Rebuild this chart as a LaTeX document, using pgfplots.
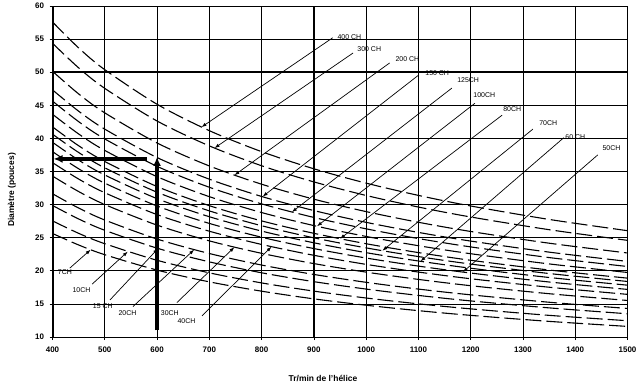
\documentclass[border=0pt]{standalone}
\usepackage{pgfplots}
\pgfplotsset{compat=1.18}
\usepackage{pgfplotstable}
\usepackage{fontspec}
\setmainfont{Liberation Sans}
\usetikzlibrary{arrows.meta}

\pgfplotstableread{
N p7 p10 p15 p20 p30 p40 p50 p60 p70 p80 p100 p125 p150 p200 p300 p400
400 25.64 27.54 29.87 31.64 34.31 36.34 38.00 39.41 40.64 41.74 43.65 45.64 47.33 50.14 54.37 57.59
450 23.90 25.66 27.83 29.48 31.97 33.86 35.41 36.72 37.87 38.89 40.67 42.53 44.11 46.72 50.66 53.67
500 22.43 24.09 26.12 27.67 30.01 31.79 33.24 34.47 35.55 36.51 38.18 39.92 41.40 43.86 47.56 50.38
600 20.11 21.59 23.42 24.80 26.90 28.49 29.79 30.90 31.87 32.73 34.22 35.78 37.11 39.31 42.63 45.16
700 18.33 19.69 21.35 22.61 24.52 25.98 27.16 28.17 29.05 29.84 31.20 32.62 33.84 35.84 38.87 41.17
800 16.92 18.17 19.70 20.87 22.64 23.98 25.07 26.00 26.81 27.54 28.80 30.11 31.23 33.08 35.87 38.00
900 15.76 16.93 18.36 19.45 21.09 22.34 23.36 24.23 24.98 25.66 26.83 28.06 29.10 30.82 33.43 35.41
1000 14.80 15.89 17.24 18.26 19.80 20.97 21.93 22.74 23.46 24.09 25.19 26.34 27.32 28.94 31.38 33.24
1100 13.98 15.01 16.28 17.24 18.70 19.81 20.71 21.48 22.15 22.75 23.79 24.87 25.80 27.33 29.63 31.39
1200 13.27 14.25 15.45 16.37 17.75 18.80 19.66 20.39 21.02 21.59 22.58 23.61 24.49 25.94 28.13 29.79
1350 12.36 13.27 14.40 15.25 16.54 17.52 18.31 18.99 19.59 20.12 21.04 22.00 22.82 24.17 26.21 27.76
1500 11.60 12.46 13.51 14.31 15.52 16.44 17.19 17.83 18.39 18.89 19.75 20.65 21.42 22.69 24.60 26.06
}\curves

\begin{document}
\begin{tikzpicture}
\useasboundingbox (-52.5bp,-51bp) rectangle (587.5bp,337bp);
\begin{axis}[
  at={(0,0)}, anchor=south west,
  scale only axis,
  width=575bp, height=331bp,
  xmin=400, xmax=1500, ymin=10, ymax=60,
  xtick={400,500,...,1500},
  ytick={10,15,...,60},
  grid=major,
  major grid style={black, line width=0.7bp},
  axis line style={black, line width=0.9bp},
  tick style={black, line width=0.6bp},
  major tick length=3bp,
  tick align=outside,
  xtick pos=bottom, ytick pos=left,
  /pgf/number format/assume math mode=true,
  /pgf/number format/1000 sep={},
  scaled ticks=false,
  tick label style={font=\fontsize{8}{9}\selectfont\bfseries},
  xticklabel style={yshift=-3bp},
  yticklabel style={xshift=-2bp},
  cv/.style={black, solid, line width=1.1bp, dash pattern=on 16bp off 5bp, smooth, tension=0.5, mark=none},
]
\addplot[cv] table[x=N, y=p7] {\curves};
\addplot[cv] table[x=N, y=p10] {\curves};
\addplot[cv] table[x=N, y=p15] {\curves};
\addplot[cv] table[x=N, y=p20] {\curves};
\addplot[cv] table[x=N, y=p30] {\curves};
\addplot[cv] table[x=N, y=p40] {\curves};
\addplot[cv] table[x=N, y=p50] {\curves};
\addplot[cv] table[x=N, y=p60] {\curves};
\addplot[cv] table[x=N, y=p70] {\curves};
\addplot[cv] table[x=N, y=p80] {\curves};
\addplot[cv] table[x=N, y=p100] {\curves};
\addplot[cv] table[x=N, y=p125] {\curves};
\addplot[cv] table[x=N, y=p150] {\curves};
\addplot[cv] table[x=N, y=p200] {\curves};
\addplot[cv] table[x=N, y=p300] {\curves};
\addplot[cv] table[x=N, y=p400] {\curves};

% emphasised grid lines
\draw[black, line width=1.6bp] (axis cs:400,50) -- (axis cs:1500,50);
\draw[black, line width=1.4bp] (axis cs:400,35) -- (axis cs:1500,35);
\draw[black, line width=1.4bp] (axis cs:900,10) -- (axis cs:900,60);
\draw[black, line width=2.2bp] (axis cs:400,10) -- (axis cs:400,60);

% worked example arrows
\draw[black, line width=3.2bp, -{Latex[length=9bp,width=8bp]}] (axis cs:600,11) -- (axis cs:600,37.2);
\draw[black, line width=3.2bp, -{Latex[length=9bp,width=8bp]}] (axis cs:581,36.9) -- (axis cs:402,36.9);

% label arrows (upper right)
\tikzset{lab/.style={font=\fontsize{7}{8}\selectfont, inner sep=0.5bp, anchor=west},
         arr/.style={black, line width=0.7bp, -{Latex[length=5bp,width=3.5bp]}}}
\draw[arr] (axis cs:936,55.2) -- (axis cs:685,41.70);
\draw[arr] (axis cs:975,52.9) -- (axis cs:710,38.54);
\draw[arr] (axis cs:1045,51.4) -- (axis cs:748,34.44);
\draw[arr] (axis cs:1101,49.6) -- (axis cs:802,31.21);
\draw[arr] (axis cs:1164,47.6) -- (axis cs:858,28.87);
\draw[arr] (axis cs:1208,45.3) -- (axis cs:906,26.73);
\draw[arr] (axis cs:1260,43.5) -- (axis cs:950,24.84);
\draw[arr] (axis cs:1319,41.4) -- (axis cs:1031,23.03);
\draw[arr] (axis cs:1378,40.1) -- (axis cs:1104,21.43);
\draw[arr] (axis cs:1443,37.5) -- (axis cs:1185,19.81);
\node[lab] at (axis cs:944,55.3) {400 CH};
\node[lab] at (axis cs:982,53.5) {300 CH};
\node[lab] at (axis cs:1055,52.0) {200 CH};
\node[lab] at (axis cs:1112,49.9) {150 CH};
\node[lab] at (axis cs:1173,48.8) {125CH};
\node[lab] at (axis cs:1204,46.6) {100CH};
\node[lab] at (axis cs:1261,44.4) {80CH};
\node[lab] at (axis cs:1330,42.3) {70CH};
\node[lab] at (axis cs:1380,40.2) {60 CH};
\node[lab] at (axis cs:1451,38.5) {50CH};

% label arrows (lower left)
\draw[arr] (axis cs:433,20.4) -- (axis cs:473,23.19);
\draw[arr] (axis cs:476,18.0) -- (axis cs:544,22.90);
\draw[arr] (axis cs:510,15.6) -- (axis cs:602,23.37);
\draw[arr] (axis cs:554,14.6) -- (axis cs:671,23.19);
\draw[arr] (axis cs:638,15.2) -- (axis cs:748,23.57);
\draw[arr] (axis cs:686,13.2) -- (axis cs:819,23.64);
\node[lab] at (axis cs:409,19.8) {7CH};
\node[lab] at (axis cs:437,17.1) {10CH};
\node[lab] at (axis cs:476,14.7) {15 CH};
\node[lab] at (axis cs:525,13.6) {20CH};
\node[lab] at (axis cs:606,13.6) {30CH};
\node[lab] at (axis cs:638,12.4) {40CH};
\end{axis}
\node[rotate=90, font=\fontsize{8.5}{10}\selectfont\bfseries] at (-40.5bp,147bp) {Diamètre (pouces)};
\node[font=\fontsize{8.5}{10}\selectfont\bfseries] at (270.5bp,-41bp) {Tr/min de l'hélice};
\end{tikzpicture}
\end{document}
